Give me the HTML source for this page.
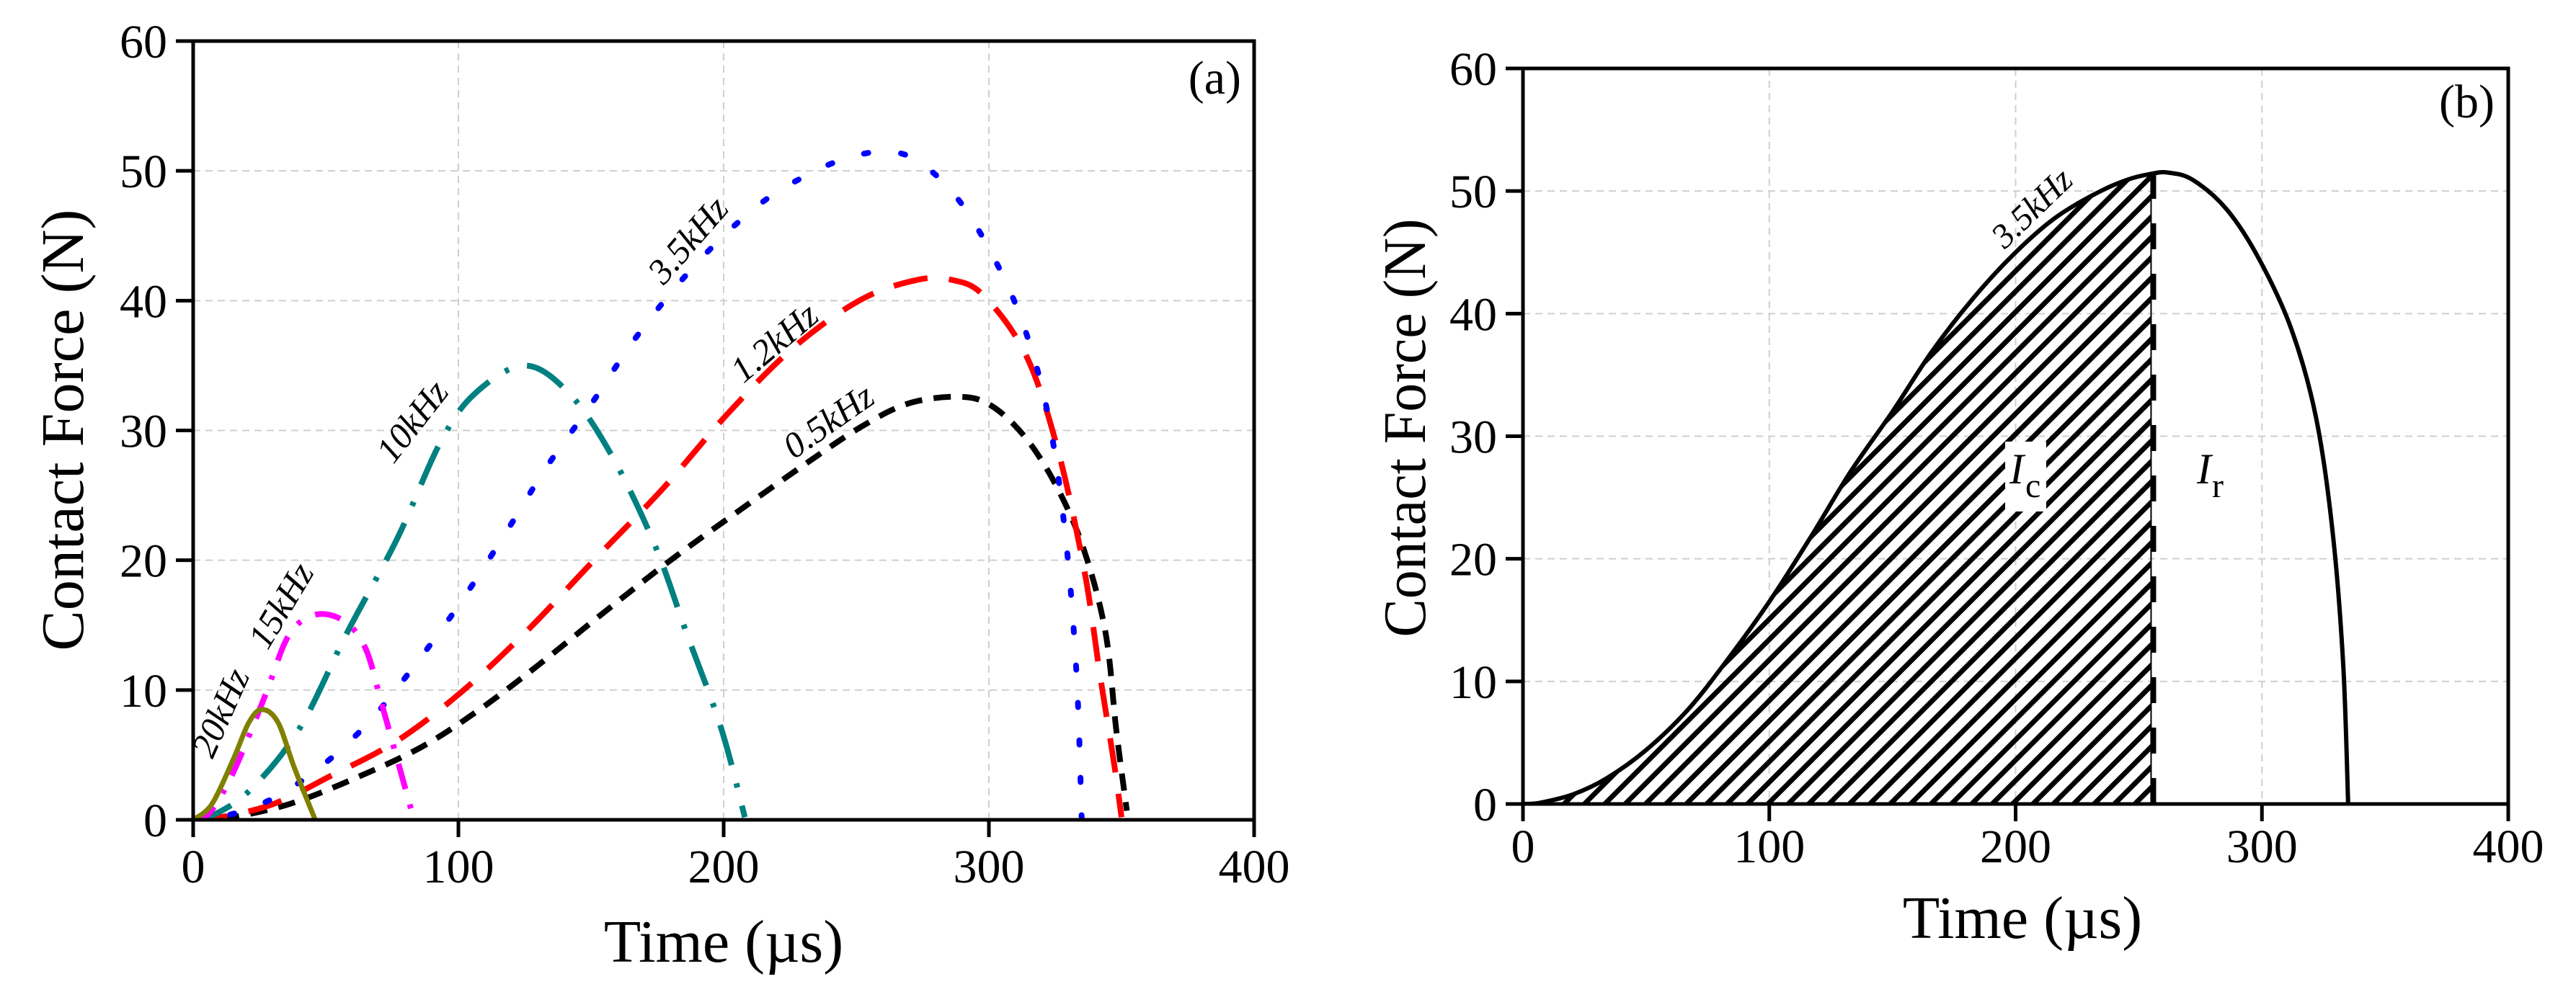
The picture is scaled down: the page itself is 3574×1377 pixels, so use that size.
<!DOCTYPE html>
<html><head><meta charset="utf-8"><style>
html,body{margin:0;padding:0;background:#fff;}
svg{display:block;font-family:"Liberation Serif",serif;}
</style></head><body>
<svg id="fig" width="3574" height="1377" viewBox="0 0 3574 1377" xmlns="http://www.w3.org/2000/svg">
<defs>
<pattern id="hatch" patternUnits="userSpaceOnUse" width="20" height="20" patternTransform="rotate(45)">
<rect x="0" y="0" width="7" height="20" fill="#000"/>
</pattern>
<clipPath id="clipA"><rect x="268" y="57" width="1472" height="1081"/></clipPath>
<clipPath id="clipB"><rect x="2113" y="95" width="1367" height="1021"/></clipPath>
</defs>
<g id="pa"></g>
<g id="pb"></g>
</svg>
<script>
const xTicks = [0,100,200,300,400];
const yTicks = [0,10,20,30,40,50,60];
const s05t = [0,12,36,61,86,108,130,155,180,205,230,252,270,289,301,314,326,336,344,348,352];
const s05f = [0,0.1,1.2,3.2,5.6,8.5,11.9,16,20,23.7,27.3,30.3,32.1,32.6,31.9,29.4,25.5,20.7,14.4,7,0.7];
const s12t = [0,8,30,52,77,102,127,152,177,202,227,252,273,286,298,314,326,336,342,347,350];
const s12f = [0,0.1,1.2,3.4,6.1,10,14.8,20.2,25.5,31.4,36.5,40.1,41.6,41.6,40.4,35.8,28.5,19.2,11,4.6,0.2];
const s35t = [0,7,20.5,34,50,67,83.5,100,116.6,133,150,166,183,199.5,216,232.6,245,255,262,272,285.7,299,312,322,328.7,333,335];
const s35f = [0,0.1,0.8,2.1,4.4,7.7,11.9,16.5,21.7,27.1,32,36.9,41.3,44.9,47.8,49.8,50.9,51.4,51.5,50.9,48.5,44.4,38.7,31.5,22.2,11.4,0];
const s10t = [0,5,21,40,58,77,93,106,125,142,158,174,186,199,208];
const s10f = [0,0.1,2.2,7,14.4,21.7,29,32.8,35,32.8,28,21.2,14.4,7.1,0.2];
const s15t = [0,6,15,27,36,46,57,65,71,77,83];
const s15f = [0,0.5,3.6,9.5,14.2,15.8,15.3,13.2,9,4.6,0.2];
const s20t = [0,7,15,21,26,32,38,46];
const s20f = [0,1.2,4.6,7.5,8.5,7.5,4.1,0];
const bSplit = 255;

const NS='http://www.w3.org/2000/svg';
function mk(parent,tag,attrs){const e=document.createElementNS(NS,tag);for(const k in attrs)e.setAttribute(k,attrs[k]);parent.appendChild(e);return e;}
function pathD(pts){
  let d='M'+pts[0][0].toFixed(1)+','+pts[0][1].toFixed(1);
  for(let i=0;i<pts.length-1;i++){
    const p0=pts[Math.max(i-1,0)],p1=pts[i],p2=pts[i+1],p3=pts[Math.min(i+2,pts.length-1)];
    const c1=[p1[0]+(p2[0]-p0[0])/6,p1[1]+(p2[1]-p0[1])/6];
    const c2=[p2[0]-(p3[0]-p1[0])/6,p2[1]-(p3[1]-p1[1])/6];
    d+='C'+c1[0].toFixed(1)+','+c1[1].toFixed(1)+' '+c2[0].toFixed(1)+','+c2[1].toFixed(1)+' '+p2[0].toFixed(1)+','+p2[1].toFixed(1);
  }
  return d;
}
function axes(g,L,T,R,B){
  const sx=t=>L+(t/400)*(R-L), sy=f=>B-(f/60)*(B-T);
  xTicks.forEach(t=>{ if(t>0&&t<400){const l=mk(g,'line',{x1:sx(t),x2:sx(t),y1:T,y2:B,stroke:'#cfcfcf','stroke-width':2,'stroke-dasharray':'10 7'});
    
    }});
  yTicks.forEach(f=>{ if(f>0&&f<60){const l=mk(g,'line',{x1:L,x2:R,y1:sy(f),y2:sy(f),stroke:'#cfcfcf','stroke-width':2,'stroke-dasharray':'10 7'});
    
    }});
  return {sx,sy};
}
function frame(g,L,T,R,B,xlabY){
  const sx=t=>L+(t/400)*(R-L), sy=f=>B-(f/60)*(B-T);
  const r=mk(g,'rect',{x:L,y:T,width:R-L,height:B-T,fill:'none',stroke:'#000','stroke-width':5});
  
  
  xTicks.forEach(t=>{
    const l=mk(g,'line',{x1:sx(t),x2:sx(t),y1:B,y2:B+24,stroke:'#000','stroke-width':5});
    
    
    const tx=mk(g,'text',{x:sx(t),y:xlabY,'font-size':66,'text-anchor':'middle'});
    tx.textContent=t;
    
    
  });
  yTicks.forEach(f=>{
    const l=mk(g,'line',{x1:L-24,x2:L,y1:sy(f),y2:sy(f),stroke:'#000','stroke-width':5});
    
    
    const tx=mk(g,'text',{x:L-36,y:sy(f)+23,'font-size':66,'text-anchor':'end'});
    tx.textContent=f;
    
    
  });
}
function curve(g,ts,fs,sx,sy,color,w,dash,cap,name){
  const pts=ts.map((t,i)=>[sx(t),sy(fs[i])]);
  const p=mk(g,'path',{d:pathD(pts),fill:'none',stroke:color,'stroke-width':w,'stroke-linecap':cap,'stroke-linejoin':'round'});
  if(dash)p.setAttribute('stroke-dasharray',dash);
  
  
  return p;
}
function label(g,txt,x,y,ang,size,name,italic){
  const t=mk(g,'text',{x:x,y:y,'font-size':size,'text-anchor':'middle',transform:'rotate('+ang+' '+x+' '+y+')'});
  if(italic)t.setAttribute('font-style','italic');
  t.textContent=txt;
  
  
  return t;
}
// Panel A
(function(){
  const g=document.getElementById('pa');
  const L=268,T=57,R=1740,B=1138;
  const {sx,sy}=axes(g,L,T,R,B);
  const cg=mk(g,'g',{'clip-path':'url(#clipA)'});
  
  
  curve(cg,s05t,s05f,sx,sy,'#000',8,'24 16','butt','series-0.5khz');
  curve(cg,s12t,s12f,sx,sy,'#ff0000',8,'48 30','butt','series-1.2khz');
  curve(cg,s35t,s35f,sx,sy,'#0000ff',8,'6 46','round','series-3.5khz');
  curve(cg,s10t,s10f,sx,sy,'#008080',8,'58 26 6 26','butt','series-10khz');
  curve(cg,s15t,s15f,sx,sy,'#ff00ff',8,'36 22 6 22','butt','series-15khz');
  curve(cg,s20t,s20f,sx,sy,'#808000',7,null,'butt','series-20khz');
  frame(g,L,T,R,B,1225);
  label(g,'20kHz',321,996,-66,50,'label-20khz',true);
  label(g,'15kHz',404,849,-59,50,'label-15khz',true);
  label(g,'10kHz',585,595,-52,50,'label-10khz',true);
  label(g,'3.5kHz',967,344,-49,50,'label-3.5khz',true);
  label(g,'1.2kHz',1085,488,-40,50,'label-1.2khz',true);
  label(g,'0.5kHz',1159,598,-35,50,'label-0.5khz',true);
  const pl=mk(g,'text',{x:1722,y:130,'font-size':66,'text-anchor':'end'});pl.textContent='(a)';
  
  
  const xt=mk(g,'text',{x:1004,y:1335,'font-size':84,'text-anchor':'middle'});xt.textContent='Time (µs)';
  
  
  const yt=mk(g,'text',{x:115,y:597,'font-size':84,'text-anchor':'middle',transform:'rotate(-90 115 597)',textLength:613,lengthAdjust:'spacingAndGlyphs'});yt.textContent='Contact Force (N)';
  
  
})();
// Panel B
(function(){
  const g=document.getElementById('pb');
  const L=2113,T=95,R=3480,B=1116;
  const {sx,sy}=axes(g,L,T,R,B);
  const cg=mk(g,'g',{'clip-path':'url(#clipB)'});
  
  
  const ts=[],fs=[];
  s35t.forEach((t,i)=>{if(t<=bSplit){ts.push(t);fs.push(s35f[i]);}});
  const pts=ts.map((t,i)=>[sx(t),sy(fs[i])]);
  const d=pathD(pts)+'L'+sx(bSplit)+','+sy(0)+'L'+sx(0)+','+sy(0)+'Z';
  const area=mk(cg,'path',{d:d,fill:'url(#hatch)',stroke:'none'});
  
  
  const idx=s35t.indexOf(bSplit);
  const splitF=idx>=0?s35f[idx]:51.4;
  const vl=mk(cg,'line',{x1:sx(bSplit),x2:sx(bSplit),y1:sy(0),y2:sy(splitF),stroke:'#000','stroke-width':2});
  
  
  const vd=mk(cg,'line',{x1:sx(bSplit)+3,x2:sx(bSplit)+3,y1:sy(0),y2:sy(splitF),stroke:'#000','stroke-width':8,'stroke-dasharray':'36 34'});
  
  
  curve(cg,s35t,s35f,sx,sy,'#000',6,null,'butt','series-3.5khz');
  frame(g,L,T,R,B,1197);
  label(g,'3.5kHz',2830,300,-44,48,'label-3.5khz',true);
  const box=mk(g,'rect',{x:2782,y:613,width:57,height:97,fill:'#fff'});
  
  
  const ic=mk(g,'text',{x:2788,y:671,'font-size':60,'font-style':'italic'});ic.textContent='I';
  
  
  const ics=mk(g,'text',{x:2810,y:690,'font-size':48});ics.textContent='c';
  
  
  const ir=mk(g,'text',{x:3048,y:671,'font-size':60,'font-style':'italic'});ir.textContent='I';
  
  
  const irs=mk(g,'text',{x:3069,y:690,'font-size':48});irs.textContent='r';
  
  
  const pl=mk(g,'text',{x:3461,y:163,'font-size':66,'text-anchor':'end'});pl.textContent='(b)';
  
  
  const xt=mk(g,'text',{x:2806,y:1302,'font-size':84,'text-anchor':'middle'});xt.textContent='Time (µs)';
  
  
  const yt=mk(g,'text',{x:1977,y:594,'font-size':84,'text-anchor':'middle',transform:'rotate(-90 1977 594)',textLength:581,lengthAdjust:'spacingAndGlyphs'});yt.textContent='Contact Force (N)';
  
  
})();
</script>
</body></html>
